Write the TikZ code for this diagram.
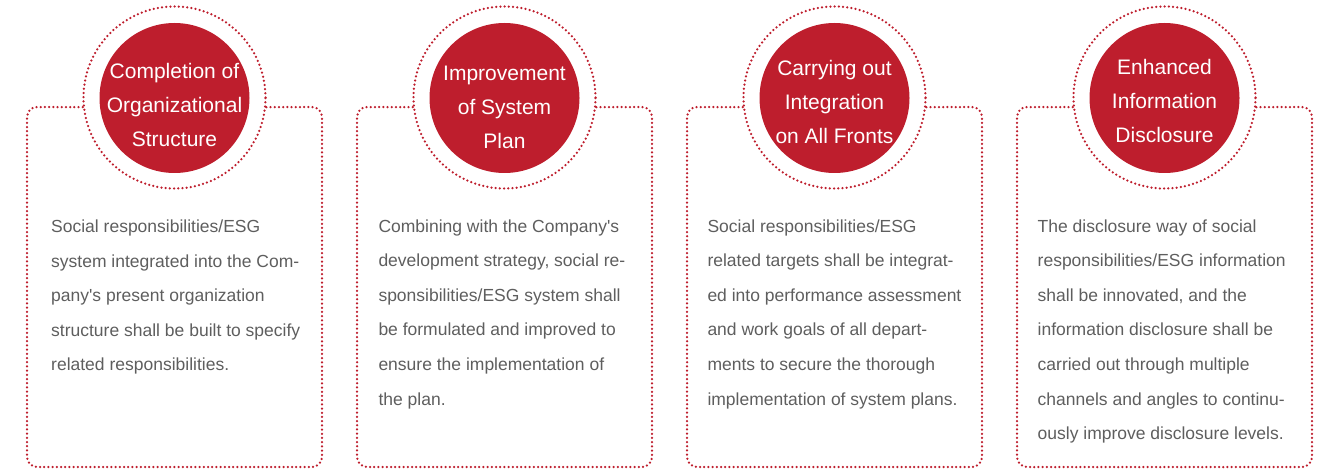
\documentclass[tikz,border=0pt]{standalone}
\usepackage{fontspec}
\setmainfont{Liberation Sans}
\definecolor{esgred}{HTML}{BE1E2D}
\definecolor{bodygray}{HTML}{5E5E5E}
\tikzset{
  dotline/.style={draw=esgred, line width=2.5pt, line cap=round, dash pattern=on 0pt off 4.2pt},
  ring/.style={circle, dotline, minimum size=182pt, inner sep=0pt},
  disc/.style={circle, fill=esgred, minimum size=150pt, inner sep=0pt},
  titletext/.style={text=white, align=center, inner sep=0pt, font=\fontsize{21}{34}\selectfont},
  bodytext/.style={text=bodygray, align=left, inner sep=0pt, anchor=base west, font=\fontsize{17.5}{34.6}\selectfont},
}
\begin{document}
\begin{tikzpicture}[x=1pt,y=-1pt]
\useasboundingbox (0,0) rectangle (1328,470);

% Panel 1
\node[ring] (r1) at (174.5,97.5) {};
\draw[dotline, rounded corners=10pt] (r1.186) -- (27,107) -- (27,467) -- (322,467) -- (322,107) -- (r1.354);
\node[disc] (d1) at (174.5,98) {};
\node[titletext] (t1) at (174.5,105) {Completion of\\Organizational\\Structure};
\node[bodytext] (b1) at (51,370.9) {Social responsibilities/ESG\\system integrated into the Com-\\pany\textquotesingle s present organization\\structure shall be built to specify\\related responsibilities.};

% Panel 2
\node[ring] (r2) at (504.5,97.5) {};
\draw[dotline, rounded corners=10pt] (r2.186) -- (357,107) -- (357,467) -- (652,467) -- (652,107) -- (r2.354);
\node[disc] (d2) at (504.5,98) {};
\node[titletext] (t2) at (504.5,107) {Improvement\\of System\\Plan};
\node[bodytext] (b2) at (378.3,405) {Combining with the Company\textquotesingle s\\development strategy, social re-\\sponsibilities/ESG system shall\\be formulated and improved to\\ensure the implementation of\\the plan.};

% Panel 3
\node[ring] (r3) at (834.5,97.5) {};
\draw[dotline, rounded corners=10pt] (r3.186) -- (687,107) -- (687,467) -- (982,467) -- (982,107) -- (r3.354);
\node[disc] (d3) at (834.5,98) {};
\node[titletext] (t3) at (834.5,101.5) {Carrying out\\Integration\\on All Fronts};
\node[bodytext] (b3) at (707.3,405) {Social responsibilities/ESG\\related targets shall be integrat-\\ed into performance assessment\\and work goals of all depart-\\ments to secure the thorough\\implementation of system plans.};

% Panel 4
\node[ring] (r4) at (1164.5,97.5) {};
\draw[dotline, rounded corners=10pt] (r4.186) -- (1017,107) -- (1017,467) -- (1312,467) -- (1312,107) -- (r4.354);
\node[disc] (d4) at (1164.5,98) {};
\node[titletext] (t4) at (1164.5,101) {Enhanced\\Information\\Disclosure};
\node[bodytext] (b4) at (1037.5,439.6) {The disclosure way of social\\responsibilities/ESG information\\shall be innovated, and the\\information disclosure shall be\\carried out through multiple\\channels and angles to continu-\\ously improve disclosure levels.};
\end{tikzpicture}
\end{document}
